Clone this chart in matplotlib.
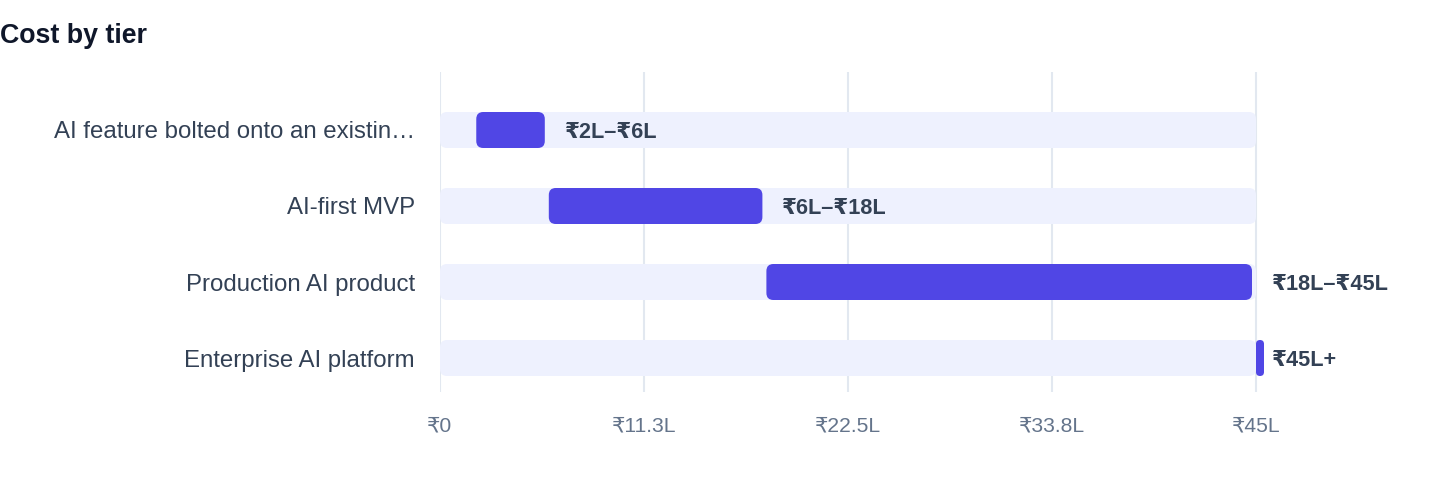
import matplotlib
matplotlib.use("Agg")
import matplotlib.pyplot as plt
from matplotlib.patches import FancyBboxPatch

plt.rcParams['font.family'] = ['Liberation Sans', 'DejaVu Sans']

categories = ["AI feature bolted onto an existin…", "AI-first MVP",
              "Production AI product", "Enterprise AI platform"]
low = [2, 6, 18, 45]
high = [6, 18, 45, 45]
value_labels = ["₹2L–₹6L", "₹6L–₹18L", "₹18L–₹45L", "₹45L+"]
scale_max = 45
tick_values = [0, 11.25, 22.5, 33.75, 45]
tick_labels = ["₹0", "₹11.3L", "₹22.5L", "₹33.8L", "₹45L"]

W, H, DPI = 1440, 484, 100
fig = plt.figure(figsize=(W / DPI, H / DPI), dpi=DPI)
ax_left, ax_right, ax_top, ax_bottom = 440, 1420, 72, 392
ax = fig.add_axes([ax_left / W, 1 - ax_bottom / H,
                   (ax_right - ax_left) / W, (ax_bottom - ax_top) / H])

px_per_x = 816 / scale_max
xmax = (ax_right - ax_left) / px_per_x
ax.set_xlim(0, xmax)
row_px = 76
ax.set_ylim(3 + 34 / row_px, -58 / row_px)

bar_h = 36 / row_px
aspect = (1 / row_px) / (1 / px_per_x)
ys = list(range(len(categories)))

bg_color = "#EEF1FE"
fg_color = "#5046E5"

def rounded(x0, w, y, r_px, color, z):
    r = r_px / px_per_x
    p = FancyBboxPatch((x0, y - bar_h / 2), w, bar_h,
                       boxstyle=f"round,pad=0,rounding_size={r}",
                       mutation_aspect=aspect, fc=color, ec="none", zorder=z)
    ax.add_patch(p)

# background tracks
bg = ax.barh(ys, [scale_max] * len(ys), left=0, height=bar_h, color=bg_color)
for b in bg:
    b.set_visible(False)
    rounded(b.get_x(), b.get_width(), b.get_y() + bar_h / 2, 7, bg_color, 2)

gap = 4 / px_per_x
min_w = 8 / px_per_x
widths = [max(h - l - gap, min_w) for l, h in zip(low, high)]
fg = ax.barh(ys, widths, left=low, height=bar_h, color=fg_color)
for b in fg:
    b.set_visible(False)
    r_px = min(7, b.get_width() * px_per_x / 2)
    rounded(b.get_x(), b.get_width(), b.get_y() + bar_h / 2, r_px, fg_color, 3)

for y, h, lab in zip(ys, high, value_labels):
    ax.annotate(lab, xy=(h, y), xytext=(16 * 72 / DPI, 0), textcoords="offset points",
                ha="left", va="center_baseline", fontsize=15.6, fontweight="bold",
                color="#334155", zorder=4)

ax.set_yticks(ys)
ax.set_yticklabels(categories, fontsize=17.3, color="#334155")
for t in ax.get_yticklabels():
    t.set_verticalalignment("center_baseline")
ax.set_xticks(tick_values)
ax.set_xticklabels(tick_labels, fontsize=15.2, color="#64748B")
ax.tick_params(axis="y", length=0, pad=25 * 72 / DPI)
ax.tick_params(axis="x", length=0, pad=25 * 72 / DPI)
for s in ax.spines.values():
    s.set_visible(False)
ax.grid(axis="x", color="#E2E8F0", linewidth=1.5, zorder=0)
ax.set_axisbelow(True)

fig.text(0 / W, 1 - 33 / H, "Cost by tier", ha="left", va="center_baseline",
         fontsize=19.3, fontweight="bold", color="#0F172A")

fig.savefig("out.png", dpi=DPI)
